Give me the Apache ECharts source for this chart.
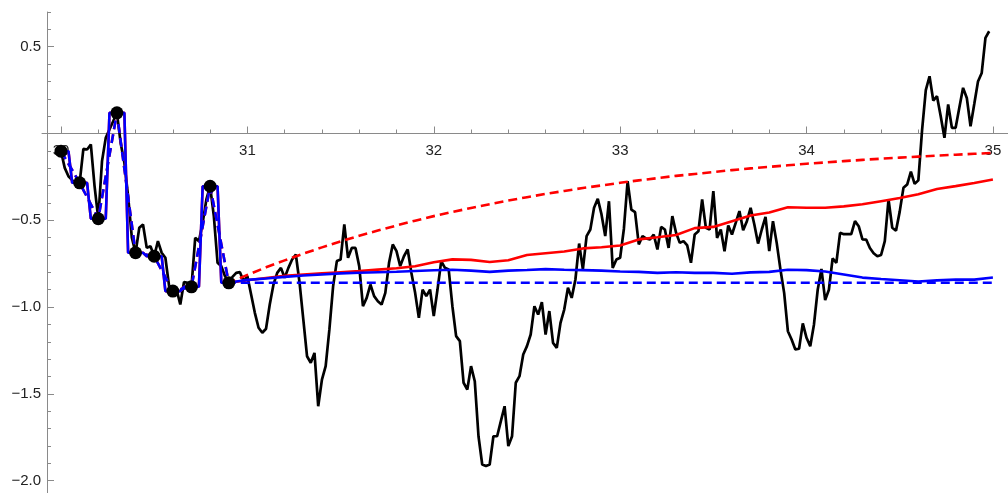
<!DOCTYPE html>
<html>
<head>
<meta charset="utf-8">
<script src="https://cdn.jsdelivr.net/npm/echarts@6/dist/echarts.min.js"></script>
<style>
  html, body { margin: 0; padding: 0; background: #fff; }
  #chart { width: 1008px; height: 493px; }
</style>
</head>
<body>
<div id="chart"></div>
<script>
// sampled points (every 0.1)
const pointT = [30.0, 30.1, 30.2, 30.3, 30.4, 30.5, 30.6, 30.7, 30.8, 30.9];
const pointY = [-0.102, -0.284, -0.491, 0.119, -0.687, -0.707, -0.908, -0.883, -0.304, -0.860];

// black path, one value every 0.02 from 30.00 to 34.98
const pathStart = 30.0;
const pathStep = 0.02;
const pathY = [
  -0.102, -0.198, -0.246, -0.269, -0.294, -0.284, -0.088, -0.092, -0.063, -0.303,
  -0.491, -0.159, -0.025, 0.023, 0.071, 0.119, -0.054, -0.169, -0.361, -0.600,
  -0.687, -0.543, -0.524, -0.659, -0.649, -0.707, -0.620, -0.687, -0.716, -0.879,
  -0.908, -0.899, -0.985, -0.856, -0.860, -0.883, -0.601, -0.620, -0.515, -0.380,
  -0.304, -0.476, -0.745, -0.764, -0.822, -0.860,
  -0.826, -0.803, -0.799, -0.851, -0.822, -0.927, -1.033, -1.119, -1.148, -1.125,
  -0.985, -0.870, -0.803, -0.774, -0.831, -0.774, -0.726, -0.697, -0.860, -1.071,
  -1.283, -1.321, -1.264, -1.571, -1.418, -1.340, -1.129, -0.879, -0.735, -0.726,
  -0.524, -0.716, -0.659, -0.659, -0.764, -0.995, -0.947, -0.870, -0.937, -0.966,
  -0.985, -0.918, -0.745, -0.639, -0.678, -0.764, -0.707, -0.668, -0.803, -0.918,
  -1.062, -0.899, -0.937, -0.899, -1.052,
  -0.899, -0.735, -0.774, -0.783, -0.995, -1.167, -1.196, -1.436, -1.475, -1.340,
  -1.427, -1.744, -1.907, -1.916, -1.907, -1.744, -1.744, -1.657, -1.571, -1.801,
  -1.744, -1.436, -1.398, -1.273, -1.225, -1.158, -0.995, -1.043, -0.971, -1.158,
  -1.023, -1.206, -1.235, -1.091, -1.014, -0.889, -0.947, -0.841, -0.634, -0.783,
  -0.591, -0.553, -0.428, -0.376, -0.466, -0.591, -0.390, -0.774, -0.726, -0.716,
  -0.550, -0.275, -0.438, -0.453, -0.639, -0.591, -0.605, -0.611, -0.582, -0.668,
  -0.538, -0.553, -0.659, -0.476, -0.572, -0.630, -0.620, -0.645, -0.745, -0.582,
  -0.563, -0.380, -0.543, -0.553, -0.332, -0.601, -0.553, -0.678, -0.530, -0.582,
  -0.515, -0.447, -0.557, -0.505, -0.428, -0.524, -0.634, -0.553, -0.480, -0.678,
  -0.505, -0.630, -0.783, -0.918, -1.139, -1.187, -1.244, -1.240, -1.094, -1.177,
  -1.225, -1.100, -0.900, -0.780, -0.960, -0.900, -0.720, -0.745, -0.572, -0.580,
  -0.580, -0.580, -0.505, -0.534, -0.610, -0.611, -0.660, -0.690, -0.707, -0.700,
  -0.620, -0.380, -0.543, -0.560, -0.450, -0.313, -0.294, -0.220, -0.290, -0.270,
  0.020, 0.250, 0.330, 0.190, 0.215, 0.100, -0.025, 0.167, 0.033, 0.033,
  0.150, 0.263, 0.205, 0.042, 0.170, 0.300, 0.349, 0.551, 0.589
];

// continuations after the last point, one value every 0.1 from 30.9 to 35.0
const tailStart = 30.9;
const tailStep = 0.1;
const blueTail = [
  -0.860, -0.843, -0.835, -0.826, -0.818, -0.812, -0.806, -0.802, -0.799, -0.796,
  -0.792, -0.788, -0.785, -0.790, -0.797, -0.790, -0.786, -0.781, -0.785, -0.787,
  -0.790, -0.795, -0.797, -0.803, -0.799, -0.803, -0.803, -0.808, -0.800, -0.797,
  -0.785, -0.787, -0.795, -0.812, -0.830, -0.838, -0.845, -0.853, -0.846, -0.842,
  -0.842, -0.830
];
const redTail = [
  -0.860, -0.845, -0.832, -0.820, -0.813, -0.806, -0.799, -0.792, -0.784, -0.776,
  -0.765, -0.742, -0.725, -0.728, -0.740, -0.730, -0.700, -0.690, -0.680, -0.662,
  -0.655, -0.645, -0.610, -0.598, -0.585, -0.545, -0.538, -0.505, -0.472, -0.455,
  -0.425, -0.428, -0.428, -0.420, -0.408, -0.390, -0.372, -0.350, -0.320, -0.303,
  -0.285, -0.265
];
const redDashTail = [
  -0.860, -0.815, -0.771, -0.731, -0.692, -0.656, -0.622, -0.589, -0.559, -0.530,
  -0.502, -0.476, -0.452, -0.429, -0.407, -0.386, -0.367, -0.348, -0.331, -0.314,
  -0.299, -0.284, -0.270, -0.257, -0.244, -0.233, -0.222, -0.211, -0.201, -0.192,
  -0.183, -0.174, -0.167, -0.159, -0.152, -0.145, -0.139, -0.133, -0.127, -0.122,
  -0.117, -0.112
];
const blueHold = -0.860;
const holdEnd = 35.0;

// axis ticks
const xMajor = [30, 31, 32, 33, 34, 35];
const xMinor = [30.2, 30.4, 30.6, 30.8, 31.2, 31.4, 31.6, 31.8, 32.2, 32.4, 32.6, 32.8,
                33.2, 33.4, 33.6, 33.8, 34.2, 34.4, 34.6, 34.8];
const yMajor = [-2.0, -1.5, -1.0, -0.5, 0, 0.5];
const yLabels = [-2.0, -1.5, -1.0, -0.5, 0.5];
const yMinor = [-1.9, -1.8, -1.7, -1.6, -1.4, -1.3, -1.2, -1.1, -0.9, -0.8, -0.7, -0.6,
                -0.4, -0.3, -0.2, -0.1, 0.1, 0.2, 0.3, 0.4, 0.6, 0.7];

const xMin = 29.898, xMax = 35.081;
const yMin = -2.071, yMax = 0.70;
const FONT = "'Liberation Sans', Arial, sans-serif";
const AXIS_COLOR = '#8a8a8a';

// layout: x axis drawn where y = 0 sits inside the grid
const GRID_TOP = 12, GRID_H = 481, H = 493;
const zeroPx = GRID_TOP + (yMax / (yMax - yMin)) * GRID_H;
const xAxisOffset = -(H - zeroPx);

// build series data
const r = v => Math.round(v * 1000) / 1000;
const pathData = pathY.map((y, i) => [r(pathStart + i * pathStep), y]);
const pointData = pointT.map((t, i) => [t, pointY[i]]);
const tailT = blueTail.map((_, i) => r(tailStart + i * tailStep));

// nearest-sample hold over the sampled stretch
const stepData = [];
pointT.forEach((t, i) => {
  const a = i === 0 ? t : r(t - 0.04);
  const b = i === pointT.length - 1 ? t : r(t + 0.04);
  stepData.push([a, pointY[i]]);
  if (b !== a) stepData.push([b, pointY[i]]);
});
const blueSolid = stepData.concat(tailT.slice(1).map((t, i) => [t, blueTail[i + 1]]));
const redSolid = stepData.concat(tailT.slice(1).map((t, i) => [t, redTail[i + 1]]));
const redDash = pointData.concat(tailT.slice(1).map((t, i) => [t, redDashTail[i + 1]]));
const blueDash = pointData.concat([[holdEnd, blueHold]]);

function fmtY(v) {
  const s = Math.abs(v).toFixed(1);
  return v < 0 ? '\u2212' + s : s;
}

const chart = echarts.init(document.getElementById('chart'));
const lineBase = { type: 'line', symbol: 'none', showSymbol: false, animation: false };

chart.setOption({
  animation: false,
  grid: { left: 42, right: 0, top: GRID_TOP, bottom: 0, containLabel: false, outerBoundsMode: 'none' },
  xAxis: [
    {
      type: 'value', min: xMin, max: xMax, position: 'bottom', offset: xAxisOffset,
      axisLine: { show: true, onZero: false, lineStyle: { color: AXIS_COLOR, width: 1 } },
      axisTick: { show: true, inside: true, length: 7, customValues: xMajor, lineStyle: { color: AXIS_COLOR } },
      axisLabel: { show: true, customValues: xMajor, formatter: v => String(v), color: '#222', fontSize: 15, fontFamily: FONT, margin: 10 },
      splitLine: { show: false }
    },
    {
      type: 'value', min: xMin, max: xMax, position: 'bottom', offset: xAxisOffset,
      axisLine: { show: false, onZero: false },
      axisTick: { show: true, inside: true, length: 4, customValues: xMinor, lineStyle: { color: AXIS_COLOR } },
      axisLabel: { show: false },
      splitLine: { show: false }
    }
  ],
  yAxis: [
    {
      type: 'value', min: yMin, max: yMax, position: 'left', offset: -5,
      axisLine: { show: true, onZero: false, lineStyle: { color: AXIS_COLOR, width: 1 } },
      axisTick: { show: true, inside: true, length: 7, customValues: yMajor, lineStyle: { color: AXIS_COLOR } },
      axisLabel: { show: true, customValues: yLabels, formatter: fmtY, color: '#222', fontSize: 15, fontFamily: FONT, margin: 6 },
      splitLine: { show: false }
    },
    {
      type: 'value', min: yMin, max: yMax, position: 'left', offset: -5,
      axisLine: { show: false, onZero: false },
      axisTick: { show: true, inside: true, length: 4, customValues: yMinor, lineStyle: { color: AXIS_COLOR } },
      axisLabel: { show: false },
      splitLine: { show: false }
    }
  ],
  series: [
    { ...lineBase, data: pathData, lineStyle: { color: '#000000', width: 2.7 }, z: 2 },
    { ...lineBase, data: redSolid, lineStyle: { color: '#ff0000', width: 2.6 }, z: 3 },
    { ...lineBase, data: redDash, lineStyle: { color: '#ff0000', width: 2.6, type: [9, 5] }, z: 3 },
    { ...lineBase, data: blueSolid, lineStyle: { color: '#0000ff', width: 2.6 }, z: 4 },
    { ...lineBase, data: blueDash, lineStyle: { color: '#0000ff', width: 2.6, type: [9, 5] }, z: 4 },
    { type: 'scatter', data: pointData, symbolSize: 13, itemStyle: { color: '#000000', opacity: 1 }, z: 5, animation: false }
  ]
});
</script>
</body>
</html>
